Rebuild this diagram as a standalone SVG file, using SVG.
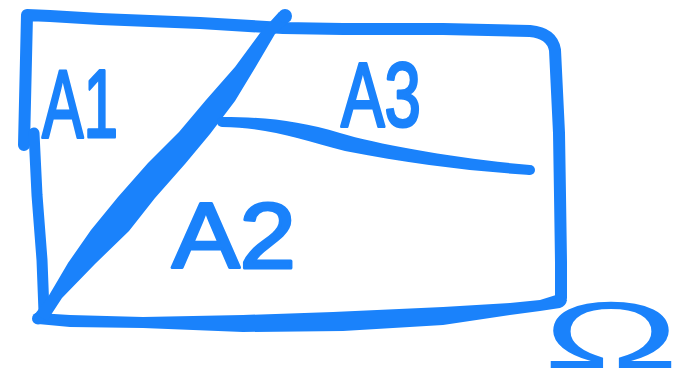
<svg xmlns="http://www.w3.org/2000/svg" width="686" height="389" viewBox="0 0 686 389">
<style>
.ink{fill:#1a82fb}
.ln{fill:none;stroke:#1a82fb;stroke-linecap:round;stroke-linejoin:round}
.lbl{font-family:"Liberation Sans","DejaVu Sans",sans-serif;fill:#1a82fb;stroke:#1a82fb;stroke-width:3;stroke-linejoin:round}
</style>
<rect width="686" height="389" fill="#ffffff"/>
<g id="frame">
<path class="ln" stroke-width="12" d="M27,15 L24,145 M27,15 L50,16 L100,19 L200,23 L283,28 L343,29 L443,29 L530,31 Q552,33 555,50 L559,133 L560,195 L561,262 L561,298"/>
<path class="ln" stroke-width="11" d="M34,133 L37,195 L42,260 L44,312"/>
<path class="ink" d="M38,313 L70,315 L143,317 L243,315 L333,312 L443,307 L510,303 L540,300 L556,295 L567,300 Q566,306 560,308 L540,311 L510,315 L443,325 L343,331 L243,332 L143,328 L70,327 L38,324 Z"/>
<circle class="ink" cx="38" cy="318.5" r="6"/>
</g>
<g id="diagonal">
<path class="ink" d="M279,12 L260,33 L235,67 L206,100 L179,132 L148,163 L118,197 L91,230 L68,263 L48,297 L35,314 L47,321 L62,298 L95,264 L129,231 L155,198 L185,164 L210,134 L235,101 L255,68 L275,34 L291,20 Z"/>
<circle class="ink" cx="285" cy="16" r="7"/>
</g>
<g id="divider">
<path class="ink" d="M222,117 C265,117 300,121 340,133 S460,159 530,165 L530,175 C470,171 410,164 345,151 C300,139 265,127 222,127 Z"/>
<circle class="ink" cx="222" cy="122" r="5"/>
<circle class="ink" cx="530" cy="170" r="5"/>
</g>
<g id="labels">
<text id="A1" class="lbl" x="42" y="137" font-size="96" textLength="76" lengthAdjust="spacingAndGlyphs">A1</text>
<text id="A2" class="lbl" x="172" y="268" font-size="92" textLength="124" lengthAdjust="spacingAndGlyphs">A2</text>
<text id="A3" class="lbl" x="341" y="126" font-size="90" textLength="80" lengthAdjust="spacingAndGlyphs">A3</text>
<text id="omega" x="543" y="368" font-size="94" textLength="136" lengthAdjust="spacingAndGlyphs" font-family="Liberation Sans, DejaVu Sans, sans-serif" fill="#1a82fb">Ω</text>
</g>
</svg>
